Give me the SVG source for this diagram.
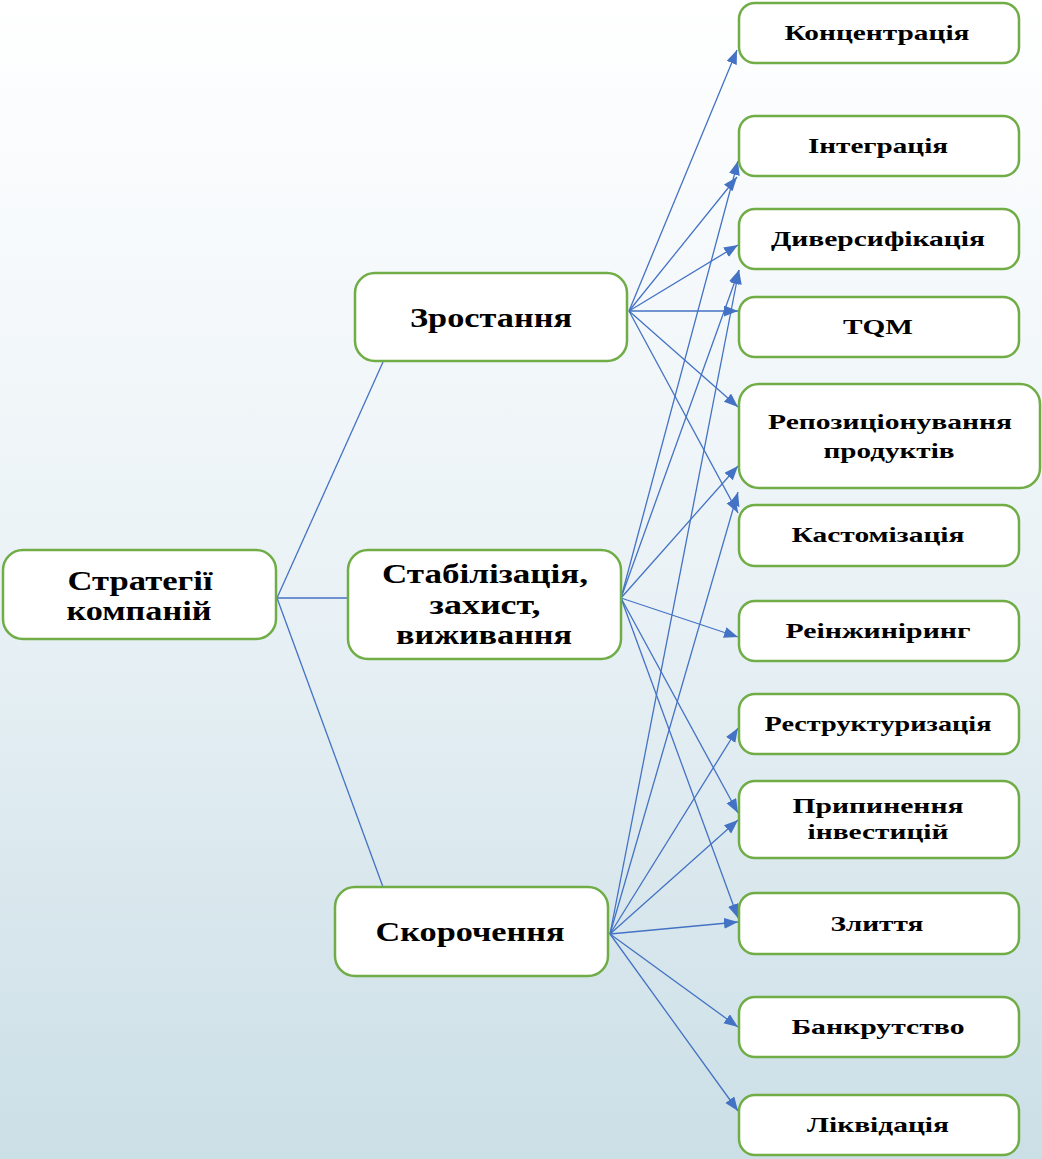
<svg xmlns="http://www.w3.org/2000/svg" width="1042" height="1159" viewBox="0 0 1042 1159">
<defs>
<linearGradient id="bg" x1="0" y1="0" x2="0" y2="1">
<stop offset="0" stop-color="#FFFFFF"/>
<stop offset="0.5" stop-color="#EAF2F6"/>
<stop offset="1" stop-color="#CBDFE6"/>
</linearGradient>
<marker id="ah" markerUnits="userSpaceOnUse" markerWidth="15" markerHeight="12" refX="14" refY="5.5" orient="auto">
<path d="M0,0 L14,5.5 L0,11 z" fill="#4472C4"/>
</marker>
</defs>
<style>
.n rect{fill:#FFFFFF;stroke:#70AD47;stroke-width:2.5}
.n text{font-family:"Liberation Serif","Times New Roman",serif;font-weight:bold;fill:#000;text-anchor:middle}
.s text{font-size:22px}
.m text{font-size:27px}
.r text{font-size:28px}
.c path{fill:none;stroke:#4472C4;stroke-width:1.3}
.c .a{marker-end:url(#ah)}
</style>
<rect x="0" y="0" width="1042" height="1159" fill="url(#bg)"/>
<g id="connectors" class="c">
<path d="M277,598 L383,362"/>
<path d="M277,598 L348,598"/>
<path d="M277,598 L383,887"/>
<path class="a" d="M629,311 L737,50"/>
<path class="a" d="M629,311 L737,177"/>
<path class="a" d="M629,311 L738,245"/>
<path class="a" d="M629,311 L738,311"/>
<path class="a" d="M629,311 L738,407"/>
<path class="a" d="M629,311 L738,513"/>
<path class="a" d="M621,598 L738,161"/>
<path class="a" d="M621,598 L739,270"/>
<path class="a" d="M621,598 L738,466"/>
<path class="a" d="M621,598 L738,637"/>
<path class="a" d="M621,598 L738,813"/>
<path class="a" d="M621,598 L738,918"/>
<path class="a" d="M610,934 L739,270"/>
<path class="a" d="M610,934 L738,492"/>
<path class="a" d="M610,934 L738,728"/>
<path class="a" d="M610,934 L738,820"/>
<path class="a" d="M610,934 L738,922"/>
<path class="a" d="M610,934 L738,1027"/>
<path class="a" d="M610,934 L738,1111"/>
</g>
<g id="root" class="n r"><rect x="3" y="550" width="273" height="89" rx="20"/><text x="140" y="590" textLength="145" lengthAdjust="spacingAndGlyphs">Стратегії</text><text x="139" y="620" textLength="145" lengthAdjust="spacingAndGlyphs">компаній</text></g>
<g id="growth" class="n m"><rect x="355" y="273" width="272" height="88" rx="20"/><text x="491" y="327" textLength="162" lengthAdjust="spacingAndGlyphs">Зростання</text></g>
<g id="stab" class="n m"><rect x="348" y="550" width="273" height="109" rx="20"/><text x="485" y="583" textLength="206" lengthAdjust="spacingAndGlyphs">Стабілізація,</text><text x="485" y="614" textLength="111" lengthAdjust="spacingAndGlyphs">захист,</text><text x="484" y="644" textLength="176" lengthAdjust="spacingAndGlyphs">виживання</text></g>
<g id="cut" class="n m"><rect x="335" y="887" width="273" height="89" rx="20"/><text x="470" y="941" textLength="189" lengthAdjust="spacingAndGlyphs">Скорочення</text></g>
<g id="n1" class="n s"><rect x="739" y="3" width="280" height="60" rx="16"/><text x="877" y="40" textLength="185" lengthAdjust="spacingAndGlyphs">Концентрація</text></g>
<g id="n2" class="n s"><rect x="739" y="116" width="280" height="60" rx="16"/><text x="878" y="153" textLength="140" lengthAdjust="spacingAndGlyphs">Інтеграція</text></g>
<g id="n3" class="n s"><rect x="739" y="209" width="280" height="60" rx="16"/><text x="878" y="246" textLength="214" lengthAdjust="spacingAndGlyphs">Диверсифікація</text></g>
<g id="n4" class="n s"><rect x="739" y="297" width="280" height="60" rx="16"/><text x="878" y="334" textLength="70" lengthAdjust="spacingAndGlyphs">TQM</text></g>
<g id="n5" class="n s"><rect x="739" y="384" width="301" height="104" rx="20"/><text x="890" y="429" textLength="244" lengthAdjust="spacingAndGlyphs">Репозиціонування</text><text x="889" y="458" textLength="131" lengthAdjust="spacingAndGlyphs">продуктів</text></g>
<g id="n6" class="n s"><rect x="739" y="505" width="280" height="61" rx="16"/><text x="878" y="542" textLength="173" lengthAdjust="spacingAndGlyphs">Кастомізація</text></g>
<g id="n7" class="n s"><rect x="739" y="601" width="280" height="60" rx="16"/><text x="878" y="638" textLength="185" lengthAdjust="spacingAndGlyphs">Реінжиніринг</text></g>
<g id="n8" class="n s"><rect x="739" y="694" width="280" height="60" rx="16"/><text x="878" y="731" textLength="227" lengthAdjust="spacingAndGlyphs">Реструктуризація</text></g>
<g id="n9" class="n s"><rect x="739" y="781" width="280" height="77" rx="16"/><text x="878" y="813" textLength="171" lengthAdjust="spacingAndGlyphs">Припинення</text><text x="878" y="839" textLength="141" lengthAdjust="spacingAndGlyphs">інвестицій</text></g>
<g id="n10" class="n s"><rect x="739" y="893" width="280" height="61" rx="16"/><text x="877" y="931" textLength="93" lengthAdjust="spacingAndGlyphs">Злиття</text></g>
<g id="n11" class="n s"><rect x="739" y="997" width="280" height="60" rx="16"/><text x="878" y="1034" textLength="173" lengthAdjust="spacingAndGlyphs">Банкрутство</text></g>
<g id="n12" class="n s"><rect x="739" y="1095" width="280" height="60" rx="16"/><text x="878" y="1132" textLength="142" lengthAdjust="spacingAndGlyphs">Ліквідація</text></g>
</svg>
